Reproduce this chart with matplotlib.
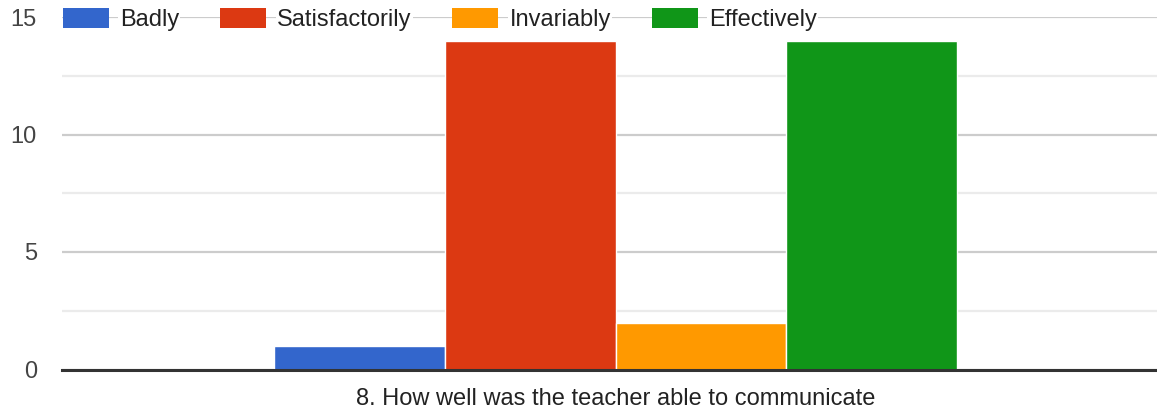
import matplotlib.pyplot as plt
from matplotlib.patches import Patch

plt.rcParams['font.family'] = ['Liberation Sans', 'DejaVu Sans']

# data
question = "8. How well was the teacher able to communicate"
answers = ["Badly", "Satisfactorily", "Invariably", "Effectively"]
counts = [1, 14, 2, 14]
colors = ["#3366cc", "#dc3912", "#ff9900", "#109618"]

fig = plt.figure(figsize=(11.57, 4.12), dpi=100)
ax = fig.add_axes([62 / 1157, 42.5 / 412, 1 - 62 / 1157, (369.5 - 17) / 412])

pos = list(range(len(answers)))
ax.bar(pos, counts, width=1.0, color=colors, edgecolor="white", linewidth=1, zorder=3)

ax.set_xlim(-1.742, 4.671)
ax.set_ylim(0, 15)

# gridlines: major every 5, minor in between
ax.set_yticks([0, 5, 10, 15])
ax.set_yticks([2.5, 7.5, 12.5], minor=True)
ax.yaxis.grid(True, which="major", color="#cccccc", linewidth=1.6, zorder=0)
ax.yaxis.grid(True, which="minor", color="#ebebeb", linewidth=1.6, zorder=0)
ax.tick_params(axis="y", which="both", length=0, pad=18, labelsize=17, labelcolor="#444444")

ax.set_xticks([(len(answers) - 1) / 2])
ax.set_xticklabels([question])
ax.tick_params(axis="x", length=0, pad=13, labelsize=17, labelcolor="#222222")

for s in ["top", "left", "right"]:
    ax.spines[s].set_visible(False)
ax.spines["bottom"].set_color("#333333")
ax.spines["bottom"].set_linewidth(2.2)
ax.spines["bottom"].set_zorder(4)

handles = [Patch(facecolor=c, edgecolor="none") for c in colors]
leg = ax.legend(handles, answers, loc="center left", bbox_to_anchor=(0.0005, 0.992),
                ncol=4, frameon=False, fontsize=17, handlelength=1.95, handleheight=0.92,
                handletextpad=0.47, columnspacing=1.73, borderpad=0, borderaxespad=0)
for t in leg.get_texts():
    t.set_color("#222222")
    t.set_bbox(dict(facecolor="white", edgecolor="none", pad=1))

fig.savefig("out.png", dpi=100)
